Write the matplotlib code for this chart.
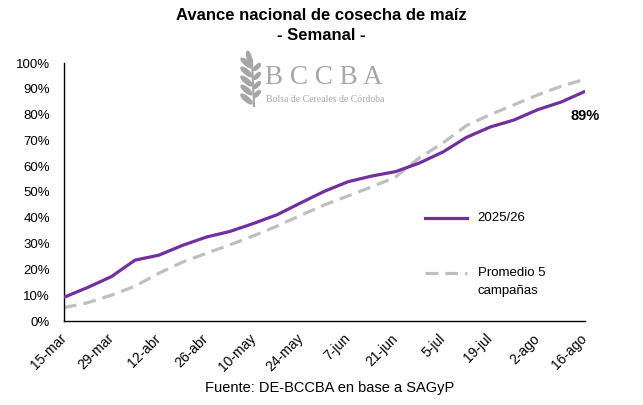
import numpy as np
import matplotlib.pyplot as plt
from matplotlib.patches import Ellipse
from matplotlib.ticker import PercentFormatter

plt.rcParams['font.family'] = ['Liberation Sans', 'DejaVu Sans']

# etiquetas del eje x (cada dos semanas)
fechas = ['15-mar', '29-mar', '12-abr', '26-abr', '10-may', '24-may',
          '7-jun', '21-jun', '5-jul', '19-jul', '2-ago', '16-ago']

# avance semanal (fracción del área), 23 semanas
campana_2025 = [0.092, 0.130, 0.172, 0.236, 0.255, 0.293, 0.325, 0.347,
                0.378, 0.412, 0.458, 0.503, 0.540, 0.562, 0.579, 0.612,
                0.655, 0.712, 0.752, 0.779, 0.819, 0.849, 0.89]
promedio_5 = [0.052, 0.071, 0.100, 0.135, 0.185, 0.228, 0.262, 0.295,
              0.330, 0.368, 0.410, 0.450, 0.485, 0.520, 0.558, 0.632,
              0.690, 0.758, 0.800, 0.838, 0.876, 0.910, 0.937]

semanas = np.arange(len(campana_2025))

PURPLE = '#7030A0'
GRAY = '#BFBFBF'
LOGO = '#A6A6A6'

fig = plt.figure(figsize=(6.43, 4.05), dpi=100)
ax = fig.add_axes([64 / 643, 1 - 321 / 405, 521 / 643, 258 / 405])

ax.plot(semanas, campana_2025, color=PURPLE, lw=2.3, solid_joinstyle='round',
        solid_capstyle='round', zorder=3)
ax.plot(semanas, promedio_5, color=GRAY, lw=2.3, dashes=(4, 2.2), zorder=2)

ax.set_xlim(semanas[0], semanas[-1])
ax.set_ylim(0, 1)
ax.set_yticks(np.arange(0, 1.01, 0.1))
ax.yaxis.set_major_formatter(PercentFormatter(1.0, decimals=0))
ax.set_xticks(semanas[::2])
ax.set_xticklabels(fechas, rotation=45, ha='right', va='center',
                   rotation_mode='anchor')
ax.tick_params(axis='y', length=0, pad=10, labelsize=9.5)
ax.tick_params(axis='x', length=0, pad=11, labelsize=10)
for s in ['top', 'right']:
    ax.spines[s].set_visible(False)
for s in ['left', 'bottom']:
    ax.spines[s].set_linewidth(1.0)
    ax.spines[s].set_color('black')

# etiqueta del último dato
ax.annotate(f'{campana_2025[-1]:.0%}', (semanas[-1], campana_2025[-1]),
            xytext=(0, -18), textcoords='offset points', ha='center',
            va='center', fontsize=10.5, fontweight='bold')

# leyenda
ax.plot([0.693, 0.774], [0.399, 0.399], transform=ax.transAxes, color=PURPLE,
        lw=2.3, clip_on=False)
ax.text(0.794, 0.399, '2025/26', transform=ax.transAxes, va='center',
        fontsize=9.5)
ax.plot([0.693, 0.774], [0.186, 0.186], transform=ax.transAxes, color=GRAY,
        lw=2.3, dashes=(4, 2.2), clip_on=False)
ax.text(0.794, 0.186, 'Promedio 5', transform=ax.transAxes, va='center',
        fontsize=9.5)
ax.text(0.794, 0.118, 'campañas', transform=ax.transAxes, va='center',
        fontsize=9.5)

# títulos
fig.text(0.5, 1 - 15 / 405, 'Avance nacional de cosecha de maíz', ha='center',
         va='center', fontsize=12, fontweight='bold')
fig.text(0.5, 1 - 35 / 405, '- Semanal -', ha='center', va='center',
         fontsize=12, fontweight='bold')
fig.text(0.513, 1 - 388 / 405, 'Fuente: DE-BCCBA en base a SAGyP', ha='center',
         va='center', fontsize=10.5)

# logo
fig.text(265 / 643, 1 - 78 / 405, 'B C C B A', ha='left', va='center',
         fontsize=19.5, color=LOGO, family='Liberation Serif')
fig.text(266 / 643, 1 - 100 / 405, 'Bolsa de Cereales de Córdoba', ha='left',
         va='center', fontsize=7, color=LOGO, family='Liberation Serif')
lax = fig.add_axes([232 / 643, 1 - 108 / 405, 32 / 643, 58 / 405])
lax.set_xlim(0, 32)
lax.set_ylim(0, 58)
lax.axis('off')
lax.plot([22, 20], [2, 48], color=LOGO, lw=1.5)
for yy in [8, 17, 26, 35, 44]:
    lax.add_patch(Ellipse((14.5, yy + 1), 14, 4.5, angle=140, color=LOGO))
for yy in [12, 21, 30, 39]:
    lax.add_patch(Ellipse((25, yy + 2), 9, 3.5, angle=45, color=LOGO))
lax.add_patch(Ellipse((17, 51), 4, 12, angle=15, color=LOGO))

fig.savefig('out.png', dpi=100)
